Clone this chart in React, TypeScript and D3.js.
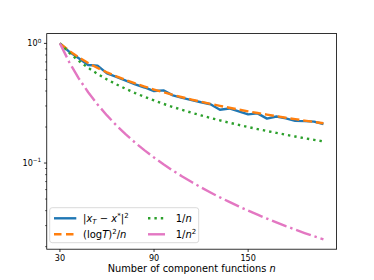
import React from "react";
import * as d3 from "d3";

const nValues = [30, 36, 42, 48, 54, 60, 66, 72, 78, 84, 90, 96, 102, 108, 114, 120, 126, 132, 138, 144, 150, 156, 162, 168, 174, 180, 186, 192, 198];
const errValues = [1.0, 0.85, 0.752, 0.66, 0.652, 0.562, 0.526, 0.488, 0.455, 0.428, 0.4, 0.405, 0.368, 0.35, 0.336, 0.322, 0.31, 0.279, 0.286, 0.27, 0.255, 0.26, 0.235, 0.245, 0.236, 0.225, 0.224, 0.222, 0.212];
const logTValues = [1.0, 0.8644, 0.7638, 0.6859, 0.6236, 0.5726, 0.53, 0.4938, 0.4626, 0.4355, 0.4116, 0.3904, 0.3715, 0.3545, 0.3391, 0.3251, 0.3123, 0.3005, 0.2897, 0.2797, 0.2705, 0.2618, 0.2538, 0.2463, 0.2392, 0.2326, 0.2264, 0.2205, 0.2149];
const invNValues = [1.0, 0.8333, 0.7143, 0.625, 0.5556, 0.5, 0.4545, 0.4167, 0.3846, 0.3571, 0.3333, 0.3125, 0.2941, 0.2778, 0.2632, 0.25, 0.2381, 0.2273, 0.2174, 0.2083, 0.2, 0.1923, 0.1852, 0.1786, 0.1724, 0.1667, 0.1613, 0.1563, 0.1515];
const invN2Values = [1.0, 0.6944, 0.5102, 0.3906, 0.3086, 0.25, 0.2066, 0.1736, 0.1479, 0.1276, 0.1111, 0.0977, 0.0865, 0.0772, 0.0693, 0.0625, 0.0567, 0.0517, 0.0473, 0.0434, 0.04, 0.037, 0.0343, 0.0319, 0.0297, 0.0278, 0.026, 0.0244, 0.023];
const xTicks = [30, 90, 150];
const yMajorTicks = [1, 0.1];
const yMinorTicks = [0.02, 0.03, 0.04, 0.05, 0.06, 0.07, 0.08, 0.09, 0.2, 0.3, 0.4, 0.5, 0.6, 0.7, 0.8, 0.9];

const W = 374, H = 280;
const L = 46.75, R = 336.6, T = 33.6, B = 249.2;
const FONT = "DejaVu Sans";

const xMin = d3.min(nValues)!, xMax = d3.max(nValues)!;
const xPad = (xMax - xMin) * 0.05;
const x = d3.scaleLinear().domain([xMin - xPad, xMax + xPad]).range([L, R]);
const allY = [...errValues, ...logTValues, ...invNValues, ...invN2Values];
const lyMin = Math.log10(d3.min(allY)!), lyMax = Math.log10(d3.max(allY)!);
const lyPad = (lyMax - lyMin) * 0.05;
const y = d3.scaleLog().domain([Math.pow(10, lyMin - lyPad), Math.pow(10, lyMax + lyPad)]).range([B, T]);

const lineGen = d3.line<[number, number]>().x(d => x(d[0])).y(d => y(d[1]));
const pts = (vals: number[]) => nValues.map((n, i) => [n, vals[i]] as [number, number]);

const series = [
  { vals: errValues, color: "#1f77b4", dash: undefined as string | undefined },
  { vals: logTValues, color: "#ff7f0e", dash: "9 3.9" },
  { vals: invNValues, color: "#2ca02c", dash: "2.4 4" },
  { vals: invN2Values, color: "#e377c2", dash: "15.6 3.9 2.4 3.9" },
];

export default function App() {
  const lw = 2.4;
  const lf = 10;
  const sf = 7;
  return (
    <svg width={W} height={H} style={{ position: "absolute", left: 0, top: 0 }} fontFamily={FONT}>
      <rect width={W} height={H} fill="#fff" />
      <defs>
        <clipPath id="plot"><rect x={L} y={T} width={R - L} height={B - T} /></clipPath>
      </defs>
      <g clipPath="url(#plot)">
        {series.map((s, i) => (
          <path key={i} d={lineGen(pts(s.vals))!} fill="none" stroke={s.color} strokeWidth={lw}
            strokeDasharray={s.dash} strokeLinecap="butt" strokeLinejoin="round" />
        ))}
      </g>
      <rect x={L} y={T} width={R - L} height={B - T} fill="none" stroke="#000" strokeWidth={0.8} />
      {xTicks.map(t => (
        <g key={t}>
          <line x1={x(t)} x2={x(t)} y1={B} y2={B + 2.8} stroke="#000" strokeWidth={0.8} />
          <text x={x(t)} y={B + 11.5} fontSize={8.1} textAnchor="middle" fill="#000">{t}</text>
        </g>
      ))}
      {yMinorTicks.map(t => (
        <line key={t} x1={L - 1.6} x2={L} y1={y(t)} y2={y(t)} stroke="#000" strokeWidth={0.65} />
      ))}
      {yMajorTicks.map(t => (
        <g key={t}>
          <line x1={L - 2.8} x2={L} y1={y(t)} y2={y(t)} stroke="#000" strokeWidth={0.8} />
          <text x={L - 5.5} y={y(t) + 3} fontSize={8.1} textAnchor="end" fill="#000">
            10<tspan fontSize={5.7} dy={-3.6}>{t === 1 ? "0" : "\u22121"}</tspan>
          </text>
        </g>
      ))}
      <text x={(L + R) / 2} y={271.8} fontSize={9.8} textAnchor="middle" fill="#000">
        Number of component functions <tspan fontStyle="italic">n</tspan>
      </text>
      <rect x={49.7} y={207.7} width={149} height={35} rx={2.5} fill="#fff" fillOpacity={0.8} stroke="#d0d0d0" strokeWidth={0.8} />
      <line x1={54} x2={76.3} y1={218.3} y2={218.3} stroke="#1f77b4" strokeWidth={lw} />
      <line x1={54} x2={76.3} y1={234.3} y2={234.3} stroke="#ff7f0e" strokeWidth={lw} strokeDasharray="7.5 4.5" />
      <line x1={148} x2={165} y1={218.3} y2={218.3} stroke="#2ca02c" strokeWidth={lw} strokeDasharray="2.4 4" />
      <line x1={148} x2={165} y1={234.3} y2={234.3} stroke="#e377c2" strokeWidth={lw} />
      <text x={83} y={222} fontSize={lf} fill="#000">
        |<tspan fontStyle="italic">x</tspan><tspan fontStyle="italic" fontSize={sf} dy={2}>T</tspan><tspan dy={-2}> − </tspan><tspan fontStyle="italic">x</tspan><tspan fontSize={sf} dy={-3.8}>*</tspan><tspan dy={3.8}>|</tspan><tspan fontSize={sf} dy={-4}>2</tspan>
      </text>
      <text x={83} y={238} fontSize={lf} fill="#000">
        (log<tspan fontStyle="italic">T</tspan>)<tspan fontSize={sf} dy={-4}>2</tspan><tspan dy={4}>/</tspan><tspan fontStyle="italic">n</tspan>
      </text>
      <text x={175.7} y={222} fontSize={lf} fill="#000">
        1/<tspan fontStyle="italic">n</tspan>
      </text>
      <text x={175.7} y={238} fontSize={lf} fill="#000">
        1/<tspan fontStyle="italic">n</tspan><tspan fontSize={sf} dy={-4}>2</tspan>
      </text>
    </svg>
  );
}
